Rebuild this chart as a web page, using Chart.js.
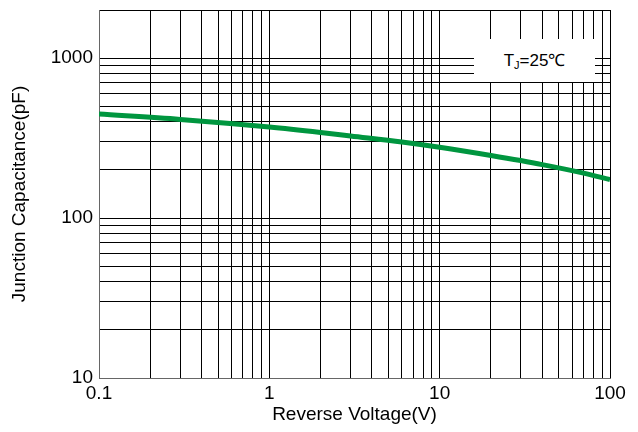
<!DOCTYPE html>
<html>
<head>
<meta charset="utf-8">
<title>Junction Capacitance vs Reverse Voltage</title>
<script src="https://cdn.jsdelivr.net/npm/chart.js"></script>
<style>
  body { margin: 0; background: #fff; }
  #wrap { position: relative; width: 638px; height: 432px; }
  #tag {
    position: absolute; left: 474px; top: 39px; width: 121px; height: 43px;
    background: #fff; font-family: "Liberation Sans", Arial, sans-serif;
    font-size: 17px; color: #000; line-height: 43px; text-align: center;
  }
  #tag .sub { font-size: 11px; position: relative; top: 3px; }
</style>
</head>
<body>
<div id="wrap">
  <canvas id="myChart" width="638" height="432"></canvas>
  <div id="tag">T<span class="sub">J</span>=25℃</div>
</div>
<script>
const voltage = [0.1, 0.3, 1, 2, 3, 6, 10, 20, 40, 70, 100];
const capacitance = [447, 414, 371, 343, 326, 299, 277, 246, 216, 191, 174];
const xGrid = [0.1, 0.2, 0.3, 0.4, 0.5, 0.6, 0.7, 0.8, 0.9, 1, 2, 3, 4, 5, 6, 7, 8, 9, 10, 20, 30, 40, 50, 60, 70, 80, 90, 100];
const yGrid = [10, 20, 30, 40, 50, 60, 70, 80, 90, 100, 200, 300, 400, 500, 600, 700, 800, 900, 1000, 2000];
const xLabels = [0.1, 1, 10, 100];
const yLabels = [10, 100, 1000];

const font = "'Liberation Sans', Arial, sans-serif";
const ctx = document.getElementById('myChart');
new Chart(ctx, {
  type: 'line',
  data: {
    datasets: [{
      data: voltage.map((v, i) => ({ x: v, y: capacitance[i] })),
      borderColor: '#00963f',
      borderWidth: 5,
      pointRadius: 0,
      cubicInterpolationMode: 'monotone',
      fill: false
    }]
  },
  options: {
    responsive: false,
    animation: false,
    devicePixelRatio: 1,
    layout: { padding: { top: 10, right: 28, left: 0, bottom: 6 } },
    plugins: { legend: { display: false }, tooltip: { enabled: false } },
    scales: {
      x: {
        type: 'logarithmic',
        min: 0.1,
        max: 100,
        afterBuildTicks: (s) => { s.ticks = xGrid.map(v => ({ value: v })); },
        afterFit: (s) => { s.height = 48; },
        ticks: {
          autoSkip: false,
          maxRotation: 0,
          padding: 4,
          color: '#000',
          font: { family: font, size: 19 },
          callback: (v) => xLabels.includes(v) ? String(v) : ''
        },
        grid: { color: '#000', lineWidth: 1, drawTicks: false },
        border: { color: '#666', width: 1 },
        title: {
          display: true,
          text: 'Reverse Voltage(V)',
          color: '#000',
          font: { family: font, size: 19 },
          padding: { top: 2, bottom: 0 }
        }
      },
      y: {
        type: 'logarithmic',
        min: 10,
        max: 2000,
        afterBuildTicks: (s) => { s.ticks = yGrid.map(v => ({ value: v })); },
        afterFit: (s) => { s.width = 99; s.paddingTop = 0; s.paddingBottom = 0; },
        ticks: {
          autoSkip: false,
          padding: 6,
          color: '#000',
          font: { family: font, size: 19 },
          callback: (v) => yLabels.includes(v) ? String(v) : ''
        },
        grid: { color: '#000', lineWidth: 1, drawTicks: false },
        border: { color: '#666', width: 1 },
        title: {
          display: true,
          text: 'Junction Capacitance(pF)',
          color: '#000',
          font: { family: font, size: 19 },
          padding: { top: 8, bottom: 4 }
        }
      }
    }
  }
});
</script>
</body>
</html>
